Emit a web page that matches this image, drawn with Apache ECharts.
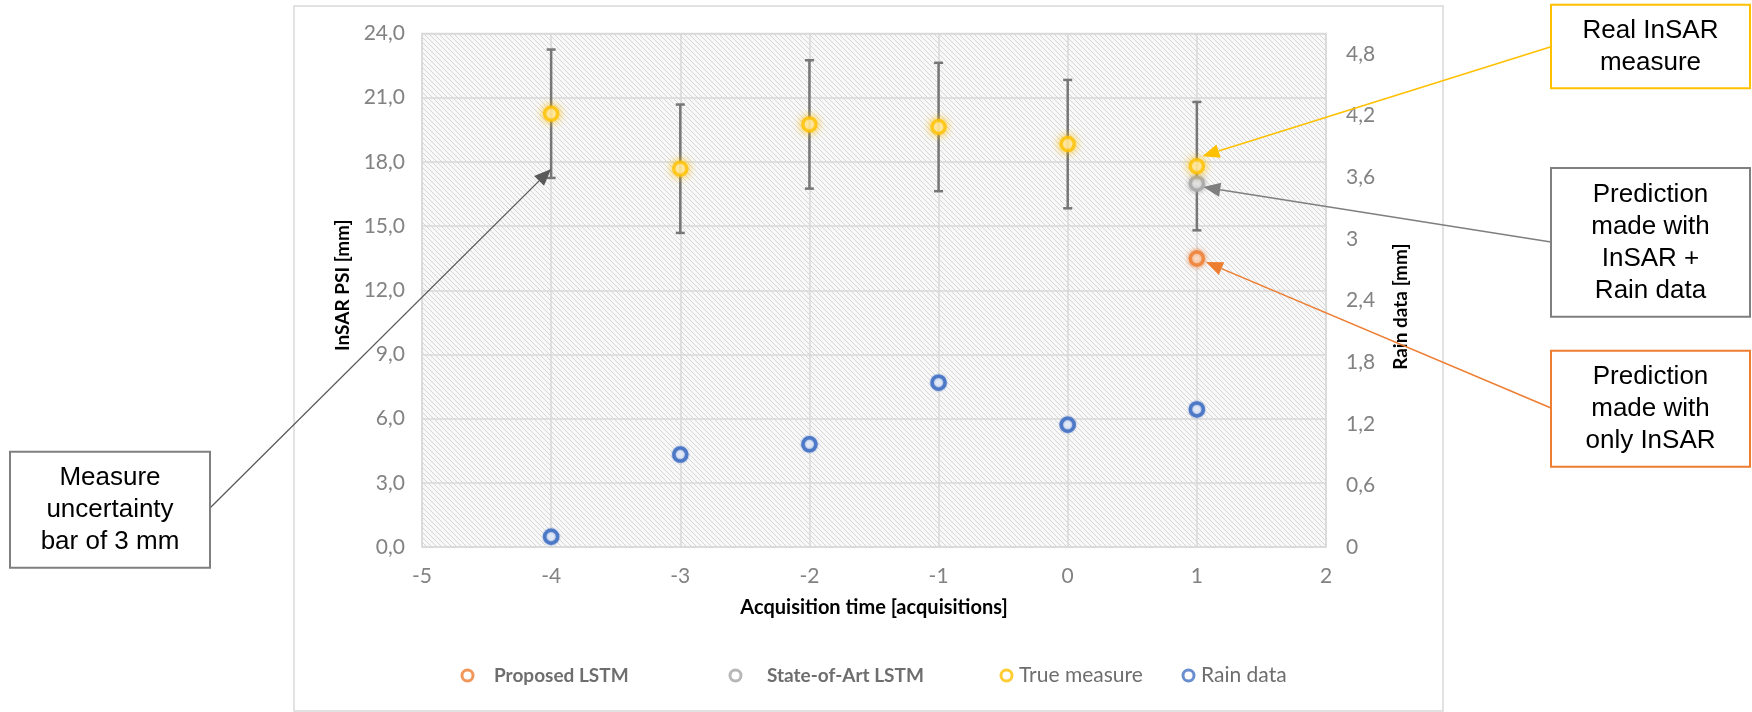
<!DOCTYPE html>
<html>
<head>
<meta charset="utf-8">
<script src="https://cdn.jsdelivr.net/npm/echarts@6/dist/echarts.min.js"></script>
<style>
html,body{margin:0;padding:0;background:#fff;}
#chart{width:1752px;height:712px;}
</style>
</head>
<body>
<div id="chart"></div>
<script>
// ---- data ----
const xTimes = [-4, -3, -2, -1, 0, 1];
const trueMeasure = [20.25, 17.68, 19.75, 19.63, 18.83, 17.80];
const rainData = [0.10, 0.90, 1.00, 1.60, 1.19, 1.34];
const predTime = [1];
const proposedLSTM = [13.48];
const stateOfArtLSTM = [16.98];
const uncertainty = 3;
const xTicks = { min: -5, max: 2, interval: 1 };
const leftTicks = { min: 0, max: 24, interval: 3 };
const rightTicks = { min: 0, max: 5, interval: 0.6 };

const C_ORANGE = '#ED7D31', C_GREY = '#A5A5A5', C_YELLOW = '#FFC000', C_BLUE = '#4472C4';
const FONT = 'Lato';

// hatch pattern
const tile = document.createElement('canvas');
tile.width = 5; tile.height = 5;
const tc = tile.getContext('2d');
tc.fillStyle = '#f8f8f8'; tc.fillRect(0, 0, 5, 5);
tc.fillStyle = '#d6d6d6';
for (let i = 0; i < 5; i++) tc.fillRect(i, i, 1, 1);

const zip = (xs, ys) => xs.map((x, i) => [x, ys[i]]);

const chart = echarts.init(document.getElementById('chart'), null, { renderer: 'canvas' });

function markerStyle(c, glow) {
  return { color: '#ffffff', borderColor: c, borderWidth: 3.5, shadowBlur: glow, shadowColor: c };
}
const labelColor = '#828282';

const option = {
  animation: false,
  backgroundColor: '#ffffff',
  grid: {
    left: 422, right: 426, top: 33.5, bottom: 165,
    show: true,
    backgroundColor: { image: tile, repeat: 'repeat' },
    borderColor: '#d9d9d9', borderWidth: 1.5
  },
  xAxis: {
    type: 'value', min: xTicks.min, max: xTicks.max, interval: xTicks.interval,
    name: 'Acquisition time [acquisitions]', nameLocation: 'middle', nameGap: 51,
    nameTextStyle: { fontFamily: FONT, fontWeight: 'bold', fontSize: 20, color: '#000' },
    axisLine: { show: false }, axisTick: { show: false },
    axisLabel: { fontFamily: FONT, fontSize: 21, color: labelColor, margin: 19 },
    splitLine: { show: true, lineStyle: { color: '#d9d9d9', width: 1.5 } }
  },
  yAxis: [
    {
      type: 'value', min: leftTicks.min, max: leftTicks.max, interval: leftTicks.interval,
      name: 'InSAR PSI [mm]', nameLocation: 'middle', nameGap: 69, nameRotate: 90,
      nameTextStyle: { fontFamily: FONT, fontWeight: 'bold', fontSize: 19, color: '#000', padding: [0, 0, 0, 10] },
      axisLine: { show: false }, axisTick: { show: false },
      axisLabel: { fontFamily: FONT, fontSize: 21, color: labelColor, margin: 17,
        formatter: v => v.toFixed(1).replace('.', ',') },
      splitLine: { show: true, lineStyle: { color: '#d9d9d9', width: 1.5 } }
    },
    {
      type: 'value', position: 'right', min: rightTicks.min, max: rightTicks.max, interval: rightTicks.interval,
      name: 'Rain data [mm]', nameLocation: 'middle', nameGap: 65, nameRotate: 90,
      nameTextStyle: { fontFamily: FONT, fontWeight: 'bold', fontSize: 19, color: '#000', padding: [0, 33, 0, 0] },
      axisLine: { show: false }, axisTick: { show: false },
      axisLabel: { fontFamily: FONT, fontSize: 21, color: labelColor, margin: 20, showMaxLabel: false,
        formatter: v => String(Math.round(v * 10) / 10).replace('.', ',') },
      splitLine: { show: false }
    }
  ],
  legend: [
    { data: [{ name: 'Proposed LSTM', icon: 'circle', itemStyle: { color: '#fff', borderColor: C_ORANGE, borderWidth: 3 } }],
      left: 460.5, top: 666, padding: 0, itemWidth: 11, itemHeight: 11,
      textStyle: { fontFamily: FONT, fontSize: 19, fontWeight: 'bold', color: '#6e6e6e', padding: [0, 0, 0, 16] } },
    { data: [{ name: 'State-of-Art LSTM', icon: 'circle', itemStyle: { color: '#fff', borderColor: C_GREY, borderWidth: 3 } }],
      left: 728.5, top: 666, padding: 0, itemWidth: 11, itemHeight: 11,
      textStyle: { fontFamily: FONT, fontSize: 19, fontWeight: 'bold', color: '#6e6e6e', padding: [0, 0, 0, 21] } },
    { data: [{ name: 'True measure', icon: 'circle', itemStyle: { color: '#fff', borderColor: C_YELLOW, borderWidth: 3 } }],
      left: 999.5, top: 665, padding: 0, itemWidth: 11, itemHeight: 11,
      textStyle: { fontFamily: FONT, fontSize: 21, color: '#6e6e6e', padding: [0, 0, 0, 2] } },
    { data: [{ name: 'Rain data', icon: 'circle', itemStyle: { color: '#fff', borderColor: C_BLUE, borderWidth: 3 } }],
      left: 1181.5, top: 665, padding: 0, itemWidth: 11, itemHeight: 11,
      textStyle: { fontFamily: FONT, fontSize: 21, color: '#6e6e6e', padding: [0, 0, 0, 2] } }
  ],
  series: [
    {
      name: 'uncertainty', type: 'custom', yAxisIndex: 0, z: 2,
      data: zip(xTimes, trueMeasure),
      renderItem: function (params, api) {
        const x = api.value(0), y = api.value(1);
        const top = api.coord([x, y + uncertainty]);
        const bot = api.coord([x, y - uncertainty]);
        const cap = 4.5;
        const st = { stroke: '#767676', lineWidth: 2.5 };
        return { type: 'group', children: [
          { type: 'line', shape: { x1: top[0], y1: top[1], x2: bot[0], y2: bot[1] }, style: st },
          { type: 'line', shape: { x1: top[0] - cap, y1: top[1], x2: top[0] + cap, y2: top[1] }, style: st },
          { type: 'line', shape: { x1: bot[0] - cap, y1: bot[1], x2: bot[0] + cap, y2: bot[1] }, style: st }
        ] };
      }
    },
    { name: 'Rain data', type: 'scatter', yAxisIndex: 1, z: 3, symbol: 'circle', symbolSize: 13,
      data: zip(xTimes, rainData), itemStyle: markerStyle(C_BLUE, 2) },
    { name: 'Proposed LSTM', type: 'scatter', yAxisIndex: 0, z: 3, symbol: 'circle', symbolSize: 13,
      data: zip(predTime, proposedLSTM), itemStyle: markerStyle(C_ORANGE, 5) },
    { name: 'State-of-Art LSTM', type: 'scatter', yAxisIndex: 0, z: 3, symbol: 'circle', symbolSize: 13,
      data: zip(predTime, stateOfArtLSTM), itemStyle: markerStyle(C_GREY, 5) },
    { name: 'True measure', type: 'scatter', yAxisIndex: 0, z: 4, symbol: 'circle', symbolSize: 13,
      data: zip(xTimes, trueMeasure), itemStyle: markerStyle(C_YELLOW, 8) }
  ]
};
chart.setOption(option);

// ---- annotations ----
function px(seriesIndex, pt) { return chart.convertToPixel({ seriesIndex: seriesIndex }, pt); }
function arrow(from, tip, color, lw) {
  const dx = tip[0] - from[0], dy = tip[1] - from[1];
  const len = Math.hypot(dx, dy), ux = dx / len, uy = dy / len;
  const L = 17, W = 7;
  const bx = tip[0] - ux * L, by = tip[1] - uy * L;
  return [
    { type: 'line', z: 100, shape: { x1: from[0], y1: from[1], x2: bx, y2: by }, style: { stroke: color, lineWidth: lw } },
    { type: 'polygon', z: 100, shape: { points: [tip, [bx - uy * W, by + ux * W], [bx + uy * W, by - ux * W]] }, style: { fill: color } }
  ];
}
function box(x, y, w, h, color, text) {
  return [
    { type: 'rect', z: 100, shape: { x: x, y: y, width: w, height: h }, style: { fill: '#fff', stroke: color, lineWidth: 2 } },
    { type: 'text', z: 101, x: x + w / 2, y: y + h / 2,
      style: { text: text, font: '26px "Liberation Sans"', fill: '#000', align: 'center', verticalAlign: 'middle', lineHeight: 32 } }
  ];
}
const pTrue = px(4, [1, trueMeasure[5]]);
const pState = px(3, [1, stateOfArtLSTM[0]]);
const pProp = px(2, [1, proposedLSTM[0]]);
const pBar = px(0, [-4, trueMeasure[0] - uncertainty]);

const graphics = [
  { type: 'rect', z: -10, silent: true, shape: { x: 294, y: 6, width: 1149, height: 705 }, style: { fill: 'none', stroke: '#d9d9d9', lineWidth: 1.5 } }
]
  .concat(arrow([210, 508], [pBar[0], pBar[1] - 9], '#595959', 1.3))
  .concat(arrow([1551, 46.7], [pTrue[0] + 5.5, pTrue[1] - 10], C_YELLOW, 1.5))
  .concat(arrow([1551, 242], [pState[0] + 6.5, pState[1] + 3.4], '#7f7f7f', 1.5))
  .concat(arrow([1551, 408], [pProp[0] + 9, pProp[1] + 3.4], C_ORANGE, 1.5))
  .concat(box(1551, 4.7, 199, 83.6, C_YELLOW, 'Real InSAR\nmeasure'))
  .concat(box(1551, 168, 199, 148.7, '#7f7f7f', 'Prediction\nmade with\nInSAR +\nRain data'))
  .concat(box(1551, 350.7, 199, 116, C_ORANGE, 'Prediction\nmade with\nonly InSAR'))
  .concat(box(10, 451.7, 200, 116, '#7f7f7f', 'Measure\nuncertainty\nbar of 3 mm'));

chart.setOption({ graphic: { elements: graphics } });
</script>
</body>
</html>
